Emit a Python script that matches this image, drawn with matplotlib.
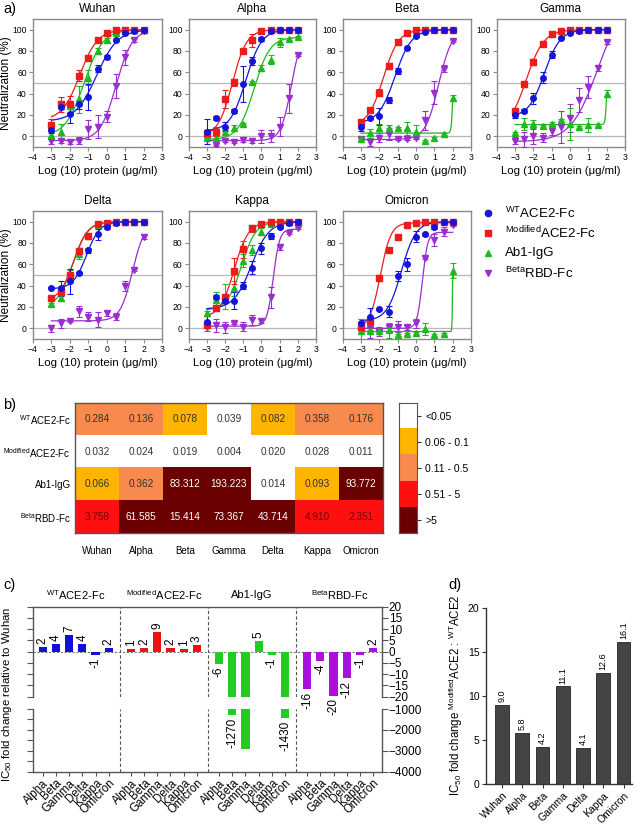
import numpy as np
import matplotlib
matplotlib.use("Agg")
import matplotlib.pyplot as plt
from matplotlib.colors import ListedColormap, BoundaryNorm

plt.rcParams['font.family'] = ['Liberation Sans', 'DejaVu Sans']
plt.rcParams['mathtext.fontset'] = 'custom'
plt.rcParams['mathtext.rm'] = 'Liberation Sans'
plt.rcParams['mathtext.it'] = 'Liberation Sans:italic'
plt.rcParams['mathtext.bf'] = 'Liberation Sans:bold'

# ---------------- data ----------------
variants = ["Wuhan", "Alpha", "Beta", "Gamma", "Delta", "Kappa", "Omicron"]
log_conc = [-3, -2.5, -2, -1.5, -1, -0.5, 0, 0.5, 1, 1.5, 2]

series_names = [r"$^{\mathrm{WT}}$ACE2-Fc", r"$^{\mathrm{Modified}}$ACE2-Fc",
                "Ab1-IgG", r"$^{\mathrm{Beta}}$RBD-Fc"]

# neutralization means (%)
wt_mean = {
    "Wuhan": [6.2, 27.4, 20.5, 30, 37, 63.5, 74.5, 90, 96.6, 99, 99.5],
    "Alpha": [4.4, 17, 9, 23.7, 49, 70.7, 91, 99, 100, 100, 100],
    "Beta": [8.4, 17, 18.7, 34, 61, 83, 94, 97.5, 100, 100, 100],
    "Gamma": [20, 23.7, 35.5, 55, 76.6, 92, 97, 98.4, 100, 100, 100],
    "Delta": [38, 37.5, 44, 52, 73, 88, 95, 98.4, 100, 100, 100],
    "Kappa": [6.2, 29.7, 26, 26, 40, 57, 75, 86.6, 94.7, 99, 100],
    "Omicron": [5.3, 10.3, 17.8, 15.6, 49, 60, 86, 88, 95, 99.4, 100],
}
wt_err = {
    "Wuhan": [3, 2, 8, 4, 12, 3, 2, 1, 1, 1, 1],
    "Alpha": [12, 2, 4, 2, 17, 4, 2, 1, 1, 1, 1],
    "Beta": [3, 1, 8, 3, 3, 1, 1, 1, 1, 1, 1],
    "Gamma": [3, 2, 5, 5, 3, 1, 1, 1, 1, 1, 1],
    "Delta": [1, 7, 12, 1, 2, 5, 2, 1, 1, 1, 1],
    "Kappa": [5, 2, 2, 8, 3, 6, 5, 3, 1, 1, 1],
    "Omicron": [1, 9, 1, 5, 5, 6, 5, 1, 2, 1, 1],
}
mod_mean = {
    "Wuhan": [10.6, 30, 30, 57, 73.5, 90, 97, 99.4, 99.7, 100, 100],
    "Alpha": [2.8, 4.4, 35, 50.5, 80, 90, 99, 100, 100, 100, 100],
    "Beta": [13, 24.6, 41, 65.7, 88, 97, 100, 100, 100, 100, 100],
    "Gamma": [24, 48.6, 69.8, 87, 96, 99, 100, 100, 100, 100, 100],
    "Delta": [28.4, 34.4, 50, 72.5, 87, 97.5, 99, 100, 100, 100, 100],
    "Kappa": [3, 19.4, 29, 53.5, 74, 93.7, 97.5, 100, 100, 100, 100],
    "Omicron": [1.6, 7.2, 47, 73.4, 85.3, 97, 98.4, 100, 100, 100, 100],
}
mod_err = {
    "Wuhan": [6, 7, 8, 5, 3, 2, 2, 1, 1, 1, 1],
    "Alpha": [3, 4, 8, 3, 2, 6, 2, 1, 1, 1, 1],
    "Beta": [2, 1, 3, 3, 2, 1, 1, 1, 1, 1, 1],
    "Gamma": [2, 1, 3, 2, 1, 1, 1, 1, 1, 1, 1],
    "Delta": [1, 3, 3, 3, 2, 1, 1, 1, 1, 1, 1],
    "Kappa": [3, 1, 2, 12, 8, 3, 1, 1, 1, 1, 1],
    "Omicron": [4, 3, 3, 1, 2, 3, 1, 1, 1, 1, 1],
}
ab1_mean = {
    "Wuhan": [1.2, 4.4, 28, 34.6, 55, 80, 90, 97, 99, 100, 100],
    "Alpha": [-0.3, -1.2, 3.7, 7.8, 11.5, 51, 64, 72, 88, 91, 93],
    "Beta": [-2.8, 2.8, 7.5, 7.5, 7.5, 7.5, 4.4, -4, -2, 2.2, 36],
    "Gamma": [2.8, 11.5, 11.5, 10, 12, 15, 11.5, 8.4, 10.6, 10.6, 40],
    "Delta": [22.5, 28.8, 50, 70, 87, 97, 99, 100, 100, 100, 100],
    "Kappa": [14, 26.6, 29.7, 37.5, 63.4, 73.4, 90.6, 98, 100, 100, 100],
    "Omicron": [-2.5, -2.5, -2.5, -1.6, -6, -5, -4, -0.6, -6, -5.6, 54],
}
ab1_err = {
    "Wuhan": [4, 7, 5, 13, 7, 3, 2, 1, 1, 1, 1],
    "Alpha": [4, 2, 2, 3, 1, 1, 3, 4, 4, 1, 1],
    "Beta": [1, 4, 4, 3, 1, 6, 6, 1, 1, 1, 3],
    "Gamma": [1, 6, 4, 1, 1, 1, 15, 1, 7, 1, 3],
    "Delta": [1, 3, 5, 5, 2, 1, 1, 1, 1, 1, 1],
    "Kappa": [2, 7, 12, 7, 6, 5, 3, 1, 1, 1, 1],
    "Omicron": [11, 1, 1, 7, 1, 1, 1, 6, 1, 1, 7],
}
rbd_mean = {
    "Wuhan": [-4, -4.7, -5.5, -4, 6.5, 9, 18.4, 47, 74, 90, 99],
    "Alpha": [-2.8, -8, -4, -5, -3.4, -4, 0, 0.3, 9, 35.5, 76],
    "Beta": [-2.8, -5.5, -1.2, 2.2, -2.5, -2.5, -1.2, 15, 41, 63.5, 89.5],
    "Gamma": [-4, -2.8, 0, -1.2, 5.3, 9, 17, 34, 46.4, 64, 88],
    "Delta": [0, 4.7, 7.2, 16, 11, 8, 14, 11, 39.7, 54.7, 86],
    "Kappa": [1.6, 3, 0.8, 5.2, 1.6, 7.8, 7.2, 29, 76, 89, 94],
    "Omicron": [2.2, 0, -3, 1, 1.6, 0.9, 4.7, 65.6, 82.8, 90.6, 97],
}
rbd_err = {
    "Wuhan": [3, 2, 2, 3, 9, 11, 5, 11, 7, 2, 1],
    "Alpha": [2, 1, 1, 1, 2, 2, 6, 6, 9, 14, 1],
    "Beta": [1, 4, 4, 6, 1, 1, 1, 9, 11, 3, 1],
    "Gamma": [3, 7, 7, 4, 4, 15, 13, 11, 10, 3, 1],
    "Delta": [3, 4, 1, 5, 4, 7, 2, 3, 5, 1, 2],
    "Kappa": [4, 6, 5, 1, 4, 5, 2, 10, 3, 1, 1],
    "Omicron": [7, 9, 4, 1, 5, 2, 4, 1, 6, 4, 1],
}
# fitted 4-parameter logistic curves: (bottom, top, logIC50, hill)
wt_fit = {"Wuhan": (14, 100, -0.55, 0.76), "Alpha": (5, 100, -0.86, 1.0),
          "Beta": (12, 100, -1.15, 0.96), "Gamma": (18, 100, -1.4, 1.0),
          "Delta": (37, 100, -1.1, 1.2), "Kappa": (18, 100, -0.55, 0.9),
          "Omicron": (7, 100, -0.8, 1.1)}
mod_fit = {"Wuhan": (15, 100, -1.46, 0.9), "Alpha": (0, 100, -1.6, 1.1),
           "Beta": (10, 100, -1.78, 1.05), "Gamma": (5, 100, -2.4, 0.9),
           "Delta": (25, 100, -1.8, 1.1), "Kappa": (10, 100, -1.5, 1.1),
           "Omicron": (0, 99, -1.95, 1.5)}
ab1_fit = {"Wuhan": (0, 100, -1.23, 0.85), "Alpha": (-3, 93, -0.4, 1.0),
           "Beta": (3, 100, 2.03, 10), "Gamma": (11, 100, 2.03, 10),
           "Delta": (20, 100, -1.85, 1.1), "Kappa": (17, 100, -1.1, 1.1),
           "Omicron": (-3, 100, 1.997, 30)}
rbd_fit = {"Wuhan": (-4, 100, 0.51, 1.0), "Alpha": (-4, 100, 1.65, 1.5),
           "Beta": (-3, 100, 1.23, 1.2), "Gamma": (-5, 130, 1.5, 0.6),
           "Delta": (7, 100, 1.4, 1.3), "Kappa": (2, 93, 0.65, 2.5),
           "Omicron": (0, 90, 0.35, 3)}

# panel b: IC50 (ug/ml)
ic50_rows = [r"$^{\mathrm{WT}}$ACE2-Fc", r"$^{\mathrm{Modified}}$ACE2-Fc",
             "Ab1-IgG", r"$^{\mathrm{Beta}}$RBD-Fc"]
ic50_wt = [0.284, 0.136, 0.078, 0.039, 0.082, 0.358, 0.176]
ic50_mod = [0.032, 0.024, 0.019, 0.004, 0.020, 0.028, 0.011]
ic50_ab1 = [0.066, 0.362, 83.312, 193.223, 0.014, 0.093, 93.772]
ic50_rbd = [3.758, 61.585, 15.414, 73.367, 43.714, 4.910, 2.351]
ic50_bins = [0, 0.05, 0.1, 0.5, 5, 10000]
ic50_bin_labels = ["<0.05", "0.06 - 0.1", "0.11 - 0.5", "0.51 - 5", ">5"]

# panel c: fold change relative to Wuhan
c_variants = ["Alpha", "Beta", "Gamma", "Delta", "Kappa", "Omicron"]
fold_wt = [2.1, 3.6, 7.3, 3.5, -1.3, 1.6]
fold_mod = [1.3, 1.7, 8.9, 1.6, 1.1, 2.9]
fold_ab1 = [-5.5, -1270, -2930, 4.7, -1.4, -1430]
fold_rbd = [-16.4, -4.1, -19.5, -11.6, -1.3, 1.6]
lbl_wt = ["2", "4", "7", "4", "-1", "2"]
lbl_mod = ["1", "2", "9", "2", "1", "3"]
lbl_ab1 = ["-6", "-1270", "", "5", "-1", "-1430"]
lbl_rbd = ["-16", "-4", "-20", "-12", "-1", "2"]

# panel d
d_fold = [9.0, 5.8, 4.2, 11.1, 4.1, 12.6, 16.1]
d_labels = ["9.0", "5.8", "4.2", "11.1", "4.1", "12.6", "16.1"]

# ---------------- style ----------------
BLUE, RED, GREEN, PURPLE = "#1414dc", "#ec1c1c", "#1fb81f", "#9a2ed0"
BAR_BLUE, BAR_RED, BAR_GREEN, BAR_PURPLE = "#1010d8", "#ee1111", "#22cc22", "#aa11dd"

W, H = 639, 824
fig = plt.figure(figsize=(W / 100, H / 100), dpi=100)


def px_axes(l, t, r, b):
    return fig.add_axes([l / W, 1 - b / H, (r - l) / W, (b - t) / H])


def ftext(x, y, s, **kw):
    fig.text(x / W, 1 - y / H, s, **kw)


def logistic(x, p):
    bottom, top, c, h = p
    return bottom + (top - bottom) / (1 + 10 ** (h * (c - x)))


# ---------------- panel a ----------------
boxes = {"Wuhan": (33, 19, 162, 147), "Alpha": (188.7, 19, 316, 147),
         "Beta": (342.7, 19, 471, 147), "Gamma": (496.7, 19, 625, 147),
         "Delta": (33, 211, 162, 339), "Kappa": (188.7, 211, 316, 339),
         "Omicron": (342.7, 211, 471, 339)}
series = [
    (rbd_mean, rbd_err, rbd_fit, PURPLE, "v"),
    (ab1_mean, ab1_err, ab1_fit, GREEN, "^"),
    (mod_mean, mod_err, mod_fit, RED, "s"),
    (wt_mean, wt_err, wt_fit, BLUE, "o"),
]
xs_curve = np.linspace(-3, 2, 2001)
for v in variants:
    l, t, r, b = boxes[v]
    ax = px_axes(l, t, r, b)
    ax.axhline(0, color="#b8b8b8", lw=0.9, zorder=0)
    ax.axhline(50, color="#b8b8b8", lw=0.9, zorder=0)
    for mean, err, fit, col, mk in series:
        ax.plot(xs_curve, logistic(xs_curve, fit[v]), color=col, lw=0.9, zorder=2)
        ax.errorbar(log_conc, mean[v], yerr=err[v], fmt=mk, color=col, ms=4.0,
                    capsize=2, elinewidth=0.8, capthick=0.8, zorder=3)
    ax.set_xlim(-4, 3)
    ax.set_ylim(-10, 110)
    ax.set_xticks(range(-4, 4))
    ax.set_yticks(range(0, 101, 20))
    for s in ax.spines.values():
        s.set_color("#8a8a8a")
        s.set_linewidth(1.0)
    ax.tick_params(direction="out", length=3, width=0.8, color="#8a8a8a",
                   labelsize=6.2, pad=1.5)
    ax.set_xlabel("Log (10) protein (μg/ml)", fontsize=8.2, labelpad=3)
    ax.set_title(v, fontsize=8.5, pad=5)
    if v in ("Wuhan", "Delta"):
        ax.set_ylabel("Neutralization (%)", fontsize=8.5)
        ax.yaxis.set_label_coords((12.5 - l) / (r - l), 0.5)

ftext(3, 9, "a)", fontsize=10.5, va="center")

# legend
leg_ax = px_axes(478, 203, 639, 283)
leg_ax.set_xlim(478, 639)
leg_ax.set_ylim(283, 203)
leg_ax.axis("off")
for i, (col, mk) in enumerate([(BLUE, "o"), (RED, "s"), (GREEN, "^"), (PURPLE, "v")]):
    yy = 213 + 20 * i
    leg_ax.plot([488], [yy], marker=mk, color=col, ms=4.5, ls="none")
    leg_ax.text(505, yy, series_names[i], fontsize=9.5, va="center", ha="left")

# ---------------- panel b ----------------
hm_colors = ["#ffffff", "#ffb400", "#f78a4c", "#ff1010", "#6b0000"]
cmap = ListedColormap(hm_colors)
norm = BoundaryNorm(ic50_bins, len(hm_colors))
ic50 = np.array([ic50_wt, ic50_mod, ic50_ab1, ic50_rbd])
axb = px_axes(75, 403, 383, 533)
axb.imshow(ic50, cmap=cmap, norm=norm, aspect="auto", interpolation="nearest")
for i in range(ic50.shape[0]):
    for j in range(ic50.shape[1]):
        val = ic50[i, j]
        if val > 5:
            tc = "white"
        elif val > 0.5:
            tc = "#7a0000"
        else:
            tc = "#333333"
        axb.text(j, i, f"{val:.3f}", ha="center", va="center", fontsize=7.2, color=tc)
axb.set_xticks(range(len(variants)))
axb.set_xticklabels(variants, fontsize=7)
axb.set_yticks(range(4))
axb.set_yticklabels(ic50_rows, fontsize=7)
axb.tick_params(length=0, pad=3)
axb.tick_params(axis="x", pad=9)
for s in axb.spines.values():
    s.set_color("#555555")
    s.set_linewidth(1.0)

axcb = px_axes(399, 403, 417, 533)
axcb.imshow(np.arange(5)[:, None], cmap=cmap, aspect="auto",
            norm=BoundaryNorm(np.arange(-0.5, 5.5, 1), 5))
axcb.set_xticks([])
axcb.yaxis.tick_right()
axcb.set_yticks(range(5))
axcb.set_yticklabels(ic50_bin_labels, fontsize=7.5)
axcb.tick_params(axis="y", length=3, width=0.8, color="#333333", pad=3)
for s in axcb.spines.values():
    s.set_color("#555555")
    s.set_linewidth(0.8)
ftext(3, 405, "b)", fontsize=10.5, va="center")

# ---------------- panel c ----------------
ax_lo = px_axes(33, 709, 381.7, 771.7)
ax_up = px_axes(33, 606.7, 381.7, 696.7)
ax_up.set_zorder(3)
ax_up.patch.set_alpha(0)
gap = 5 / 3
group_step = 5 + gap
c_groups = [
    (r"$^{\mathrm{WT}}$ACE2-Fc", fold_wt, lbl_wt, BAR_BLUE),
    (r"$^{\mathrm{Modified}}$ACE2-Fc", fold_mod, lbl_mod, BAR_RED),
    ("Ab1-IgG", fold_ab1, lbl_ab1, BAR_GREEN),
    (r"$^{\mathrm{Beta}}$RBD-Fc", fold_rbd, lbl_rbd, BAR_PURPLE),
]
all_x, all_lbl = [], []
for g, (title, vals, lbls, col) in enumerate(c_groups):
    xs = g * group_step + np.arange(len(vals))
    all_x.extend(xs)
    all_lbl.extend(c_variants)
    for ax in (ax_up, ax_lo):
        ax.bar(xs, vals, width=0.62, color=col, zorder=2)
    for x, v, l in zip(xs, vals, lbls):
        if not l:
            continue
        if v >= 0:
            ax_up.annotate(l, (x, v), xytext=(0, 2), textcoords="offset points",
                           rotation=90, ha="center", va="bottom", fontsize=8.5)
        elif v >= -20:
            ax_up.annotate(l, (x, v), xytext=(0, -2), textcoords="offset points",
                           rotation=90, ha="center", va="top", fontsize=8.5,
                           annotation_clip=False)
        else:
            ax_lo.annotate(l, (x, v), xytext=(0, -2), textcoords="offset points",
                           rotation=90, ha="center", va="top", fontsize=8.5)
    ax_up.annotate(title, (g * group_step + 2.5, 1 + 11.7 / 90),
                   xycoords=("data", "axes fraction"), ha="center", va="center",
                   fontsize=8)
    if g > 0:
        for ax in (ax_up, ax_lo):
            ax.axvline(g * group_step - gap / 2, color="#555555", ls=(0, (3, 2)),
                       lw=0.8, zorder=1)

xlim_c = (-0.73, 3 * group_step + 5 + 0.64)
for ax in (ax_up, ax_lo):
    ax.set_xlim(*xlim_c)
    for s in ax.spines.values():
        s.set_color("#555555")
        s.set_linewidth(1.0)
ax_up.axhline(0, color="#777777", ls=(0, (2, 1.5)), lw=0.8, zorder=1)
ax_up.set_ylim(-20, 20)
ax_up.set_yticks(range(-20, 21, 5))
ax_up.set_xticks([])
ax_up.spines["bottom"].set_visible(False)
ax_up.tick_params(axis="y", left=True, right=True, labelleft=False, labelright=True,
                  direction="out", length=4, width=0.8, color="#555555",
                  labelsize=8.5, pad=1)
ax_lo.set_ylim(-4000, -1000)
ax_lo.set_yticks([-1000, -2000, -3000, -4000])
ax_lo.set_yticks([-1500, -2500, -3500], minor=True)
ax_lo.spines["top"].set_visible(False)
ax_lo.tick_params(axis="y", which="major", left=True, right=True, labelleft=False,
                  labelright=True, direction="out", length=4, width=0.8,
                  color="#555555", labelsize=8.5, pad=1)
ax_lo.tick_params(axis="y", which="minor", left=True, right=False, direction="out",
                  length=4, width=0.8, color="#555555")
ax_lo.set_xticks(all_x)
ax_lo.set_xticklabels(all_lbl, rotation=45, ha="right", rotation_mode="anchor",
                      fontsize=8.3)
ax_lo.tick_params(axis="x", direction="out", length=3, width=0.8, color="#555555",
                  pad=1)
ftext(7.5, 694, r"IC$_{50}$ fold change relative to Wuhan", rotation=90,
      ha="center", va="center", fontsize=8.2)
ftext(3, 585, "c)", fontsize=10.5, va="center")

# ---------------- panel d ----------------
axd = px_axes(485.7, 607.7, 632, 784.3)
xd = np.arange(len(variants))
axd.bar(xd, d_fold, width=0.68, color="#444444", edgecolor="#222222", lw=0.6)
for x, v, l in zip(xd, d_fold, d_labels):
    axd.annotate(l, (x, v), xytext=(0, 2), textcoords="offset points", rotation=90,
                 ha="center", va="bottom", fontsize=6.5)
axd.set_xlim(-0.81, 6.42)
axd.set_ylim(0, 20)
axd.set_yticks(range(0, 21, 5))
axd.set_xticks(xd)
axd.set_xticklabels(variants, rotation=45, ha="right", rotation_mode="anchor",
                    fontsize=7)
axd.spines["top"].set_visible(False)
axd.spines["right"].set_visible(False)
for s in ("left", "bottom"):
    axd.spines[s].set_color("#333333")
    axd.spines[s].set_linewidth(1.0)
axd.tick_params(direction="out", length=3, width=0.8, color="#333333",
                labelsize=7.5, pad=1.5)
ftext(456, 695, r"IC$_{50}$ fold change $^{\mathrm{Modified}}$ACE2 : $^{\mathrm{WT}}$ACE2",
      rotation=90, ha="center", va="center", fontsize=8.3)
ftext(448, 585, "d)", fontsize=10.5, va="center")

fig.savefig("out.png", dpi=100)
